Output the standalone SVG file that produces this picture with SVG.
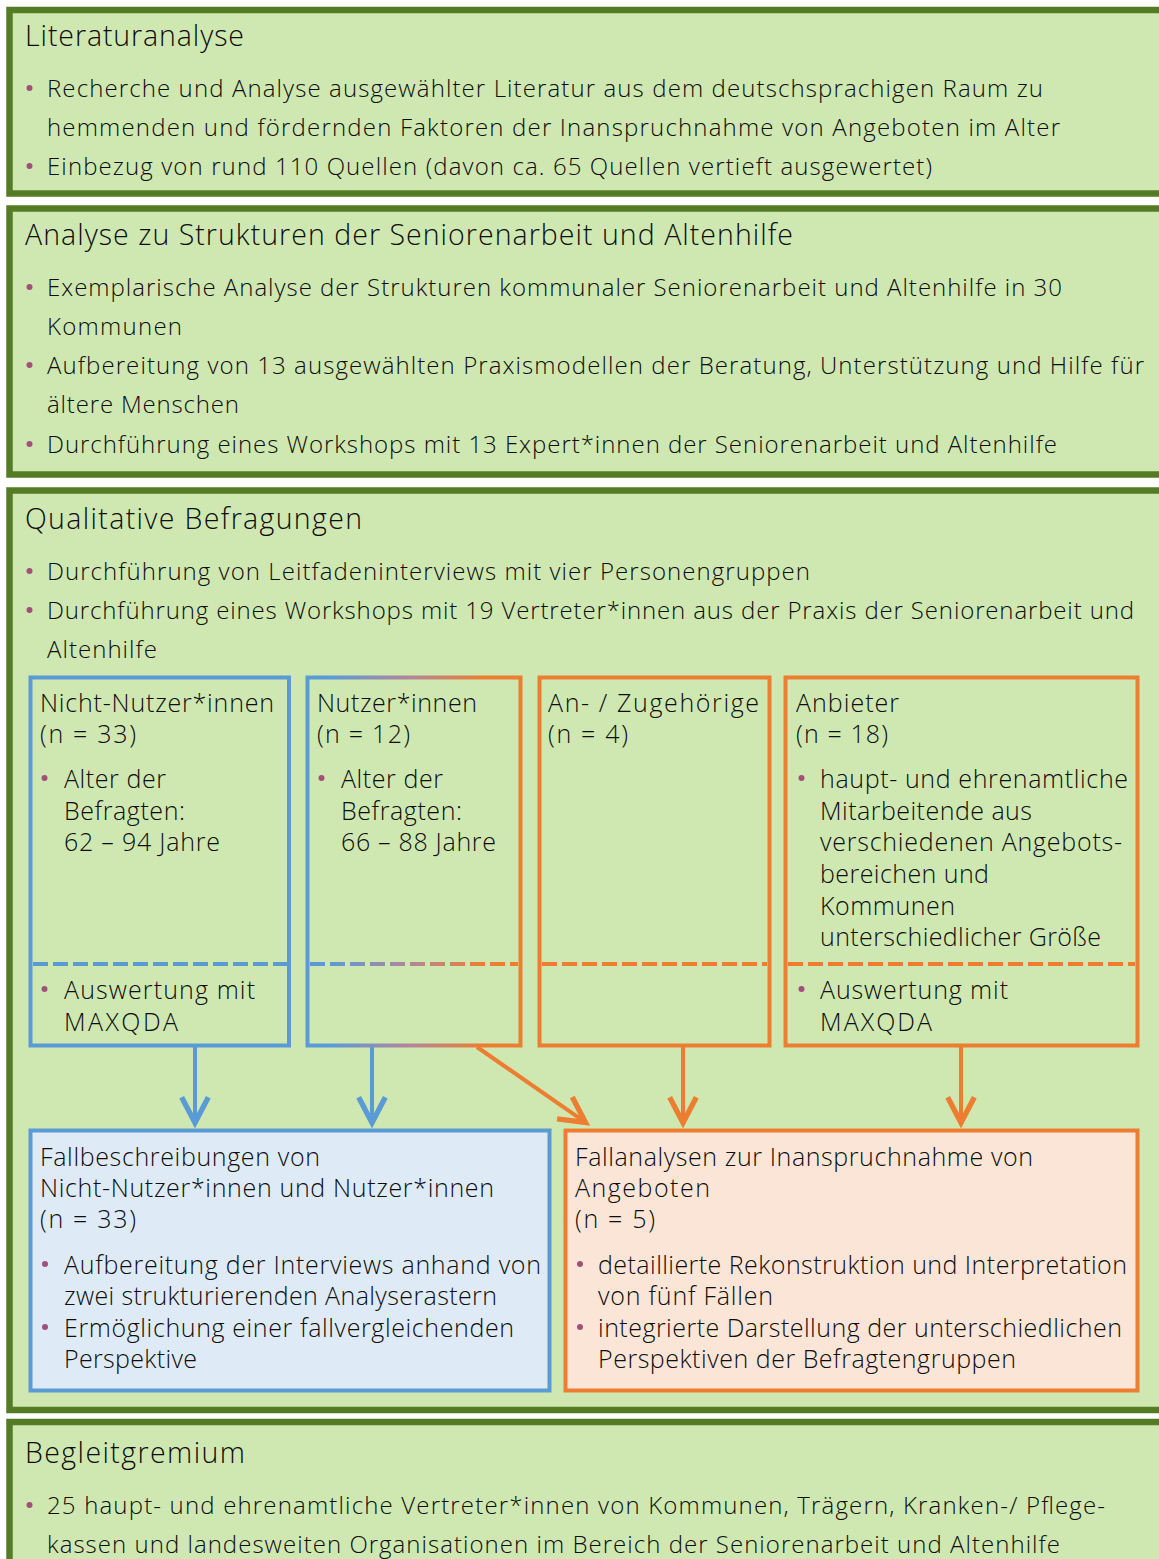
<svg xmlns="http://www.w3.org/2000/svg" width="1159" height="1559" viewBox="0 0 1159 1559">
<defs>
<style>
text{font-family:"Open Sans","Noto Sans",sans-serif;fill:#0d0d0d;font-weight:300}
.t{font-size:28.5px}
.b{font-size:24px}
.s{font-size:25px}
.gbox{fill:#cfe8b1;stroke:#547c25;stroke-width:6.5}
.dot{fill:#a24f7c}
.blue{fill:none;stroke:#5b9bd5;stroke-width:4}
.orange{fill:none;stroke:#ed7d31;stroke-width:4}
.dash{stroke-dasharray:15 5}
</style>
<linearGradient id="grad" gradientUnits="userSpaceOnUse" x1="330" y1="0" x2="485" y2="0">
<stop offset="0" stop-color="#5b9bd5"/>
<stop offset="0.5" stop-color="#b0879a"/>
<stop offset="1" stop-color="#ed7d31"/>
</linearGradient>
<marker id="ab" markerUnits="userSpaceOnUse" markerWidth="40" markerHeight="40" viewBox="-25 -15 30 30" refX="0" refY="0" orient="auto" overflow="visible">
<path d="M-17,-10 L2,0 L-17,10" fill="none" stroke="#5b9bd5" stroke-width="4" stroke-linejoin="miter"/>
</marker>
<marker id="ao" markerUnits="userSpaceOnUse" markerWidth="40" markerHeight="40" viewBox="-25 -15 30 30" refX="0" refY="0" orient="auto" overflow="visible">
<path d="M-17,-10 L2,0 L-17,10" fill="none" stroke="#ed7d31" stroke-width="4" stroke-linejoin="miter"/>
</marker>
</defs>
<rect width="1159" height="1559" fill="#ffffff"/>

<g id="literaturanalyse">
<rect class="gbox" x="9.5" y="10" width="1170" height="183.5"/>
<text class="t" x="25" y="46" textLength="219">Literaturanalyse</text>
<circle class="dot" cx="29.5" cy="88" r="3"/>
<text class="b" x="47" y="97" textLength="996">Recherche und Analyse ausgewählter Literatur aus dem deutschsprachigen Raum zu</text>
<text class="b" x="47" y="136" textLength="1013">hemmenden und fördernden Faktoren der Inanspruchnahme von Angeboten im Alter</text>
<circle class="dot" cx="29.5" cy="166" r="3"/>
<text class="b" x="47" y="175" textLength="885">Einbezug von rund 110 Quellen (davon ca. 65 Quellen vertieft ausgewertet)</text>
</g>

<g id="strukturanalyse">
<rect class="gbox" x="9.5" y="208.5" width="1170" height="266"/>
<text class="t" x="25" y="245" textLength="768">Analyse zu Strukturen der Seniorenarbeit und Altenhilfe</text>
<circle class="dot" cx="29.5" cy="287" r="3"/>
<text class="b" x="47" y="296" textLength="1015">Exemplarische Analyse der Strukturen kommunaler Seniorenarbeit und Altenhilfe in 30</text>
<text class="b" x="47" y="335" textLength="135">Kommunen</text>
<circle class="dot" cx="29.5" cy="365" r="3"/>
<text class="b" x="47" y="374" textLength="1097">Aufbereitung von 13 ausgewählten Praxismodellen der Beratung, Unterstützung und Hilfe für</text>
<text class="b" x="47" y="413" textLength="192">ältere Menschen</text>
<circle class="dot" cx="29.5" cy="444" r="3"/>
<text class="b" x="47" y="453" textLength="1010">Durchführung eines Workshops mit 13 Expert*innen der Seniorenarbeit und Altenhilfe</text>
</g>

<g id="befragungen">
<rect class="gbox" x="9.5" y="490.5" width="1170" height="919.5"/>
<text class="t" x="25" y="529" textLength="337">Qualitative Befragungen</text>
<circle class="dot" cx="29.5" cy="571" r="3"/>
<text class="b" x="47" y="580" textLength="763">Durchführung von Leitfadeninterviews mit vier Personengruppen</text>
<circle class="dot" cx="29.5" cy="610" r="3"/>
<text class="b" x="47" y="619" textLength="1087">Durchführung eines Workshops mit 19 Vertreter*innen aus der Praxis der Seniorenarbeit und</text>
<text class="b" x="47" y="658" textLength="110">Altenhilfe</text>
</g>

<g id="nicht-nutzer">
<rect class="blue" x="30.5" y="677.5" width="258.5" height="368"/>
<line class="blue dash" x1="33" y1="964" x2="287" y2="964"/>
<text class="s" x="40" y="712" textLength="234">Nicht-Nutzer*innen</text>
<text class="s" x="40" y="743" textLength="96">(n = 33)</text>
<circle class="dot" cx="44.5" cy="778" r="3"/>
<text class="s" x="64" y="788" textLength="102">Alter der</text>
<text class="s" x="64" y="820" textLength="121">Befragten:</text>
<text class="s" x="64" y="851" textLength="156">62 – 94 Jahre</text>
<circle class="dot" cx="44.5" cy="989" r="3"/>
<text class="s" x="64" y="999" textLength="191">Auswertung mit</text>
<text class="s" x="64" y="1031" textLength="114">MAXQDA</text>
</g>

<g id="nutzer">
<rect x="307.5" y="677.5" width="213" height="368" fill="none" stroke="url(#grad)" stroke-width="4"/>
<line x1="310" y1="964" x2="518" y2="964" stroke="url(#grad)" stroke-width="4" stroke-dasharray="15 5"/>
<text class="s" x="317" y="712" textLength="160">Nutzer*innen</text>
<text class="s" x="317" y="743" textLength="93">(n = 12)</text>
<circle class="dot" cx="321.5" cy="778" r="3"/>
<text class="s" x="341" y="788" textLength="102">Alter der</text>
<text class="s" x="341" y="820" textLength="121">Befragten:</text>
<text class="s" x="341" y="851" textLength="155">66 – 88 Jahre</text>
</g>

<g id="angehoerige">
<rect class="orange" x="539.5" y="677.5" width="230" height="368"/>
<line class="orange dash" x1="542" y1="964" x2="767" y2="964"/>
<text class="s" x="548" y="712" textLength="211">An- / Zugehörige</text>
<text class="s" x="548" y="743" textLength="80">(n = 4)</text>
</g>

<g id="anbieter">
<rect class="orange" x="785.5" y="677.5" width="352" height="368"/>
<line class="orange dash" x1="788" y1="964" x2="1135" y2="964"/>
<text class="s" x="796" y="712" textLength="103">Anbieter</text>
<text class="s" x="796" y="743" textLength="92">(n = 18)</text>
<circle class="dot" cx="801.5" cy="778" r="3"/>
<text class="s" x="820" y="788" textLength="308">haupt- und ehrenamtliche</text>
<text class="s" x="820" y="820" textLength="212">Mitarbeitende aus</text>
<text class="s" x="820" y="851" textLength="302">verschiedenen Angebots-</text>
<text class="s" x="820" y="883" textLength="169">bereichen und</text>
<text class="s" x="820" y="915" textLength="135">Kommunen</text>
<text class="s" x="820" y="946" textLength="281">unterschiedlicher Größe</text>
<circle class="dot" cx="801.5" cy="989" r="3"/>
<text class="s" x="820" y="999" textLength="188">Auswertung mit</text>
<text class="s" x="820" y="1031" textLength="112">MAXQDA</text>
</g>

<g id="fallbeschreibungen">
<rect x="30.5" y="1130.5" width="519" height="260" fill="#deebf7" stroke="#5b9bd5" stroke-width="4"/>
<text class="s" x="40" y="1166" textLength="280">Fallbeschreibungen von</text>
<text class="s" x="40" y="1197" textLength="454">Nicht-Nutzer*innen und Nutzer*innen</text>
<text class="s" x="40" y="1228" textLength="96">(n = 33)</text>
<circle class="dot" cx="45" cy="1264" r="3"/>
<text class="s" x="64" y="1274" textLength="477">Aufbereitung der Interviews anhand von</text>
<text class="s" x="64" y="1305" textLength="433">zwei strukturierenden Analyserastern</text>
<circle class="dot" cx="45" cy="1327" r="3"/>
<text class="s" x="64" y="1337" textLength="450">Ermöglichung einer fallvergleichenden</text>
<text class="s" x="64" y="1368" textLength="133">Perspektive</text>
</g>

<g id="fallanalysen">
<rect x="565.5" y="1130.5" width="572" height="260" fill="#fbe5d6" stroke="#ed7d31" stroke-width="4"/>
<text class="s" x="575" y="1166" textLength="458">Fallanalysen zur Inanspruchnahme von</text>
<text class="s" x="575" y="1197" textLength="135">Angeboten</text>
<text class="s" x="575" y="1228" textLength="80">(n = 5)</text>
<circle class="dot" cx="580" cy="1264" r="3"/>
<text class="s" x="598" y="1274" textLength="529">detaillierte Rekonstruktion und Interpretation</text>
<text class="s" x="598" y="1305" textLength="175">von fünf Fällen</text>
<circle class="dot" cx="580" cy="1327" r="3"/>
<text class="s" x="598" y="1337" textLength="524">integrierte Darstellung der unterschiedlichen</text>
<text class="s" x="598" y="1368" textLength="418">Perspektiven der Befragtengruppen</text>
</g>

<g id="begleitgremium">
<rect class="gbox" x="9.5" y="1422" width="1170" height="200"/>
<text class="t" x="25" y="1463" textLength="220">Begleitgremium</text>
<circle class="dot" cx="29.5" cy="1505" r="3"/>
<text class="b" x="47" y="1514" textLength="1058">25 haupt- und ehrenamtliche Vertreter*innen von Kommunen, Trägern, Kranken-/ Pflege-</text>
<text class="b" x="47" y="1553" textLength="1013">kassen und landesweiten Organisationen im Bereich der Seniorenarbeit und Altenhilfe</text>
</g>

<g id="connectors">
<line class="blue" x1="195" y1="1047" x2="195" y2="1120" marker-end="url(#ab)"/>
<line class="blue" x1="372" y1="1047" x2="372" y2="1120" marker-end="url(#ab)"/>
<line class="orange" x1="477" y1="1047" x2="583.3" y2="1120.9" marker-end="url(#ao)"/>
<line class="orange" x1="683" y1="1047" x2="683" y2="1120" marker-end="url(#ao)"/>
<line class="orange" x1="961" y1="1047" x2="961" y2="1120" marker-end="url(#ao)"/>
</g>
</svg>
